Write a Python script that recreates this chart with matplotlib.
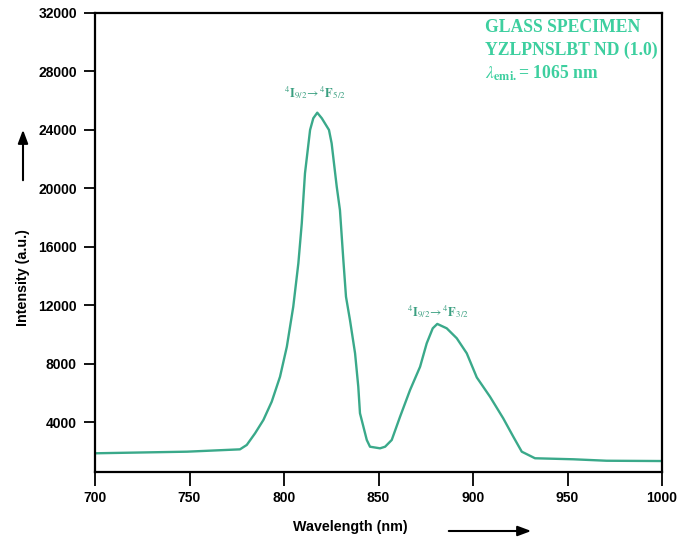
import matplotlib
matplotlib.use('Agg')
import matplotlib.pyplot as plt

# emission spectrum
wavelength = [700.0, 748.7, 776.7, 780.3, 784.7, 789.1, 793.5, 797.9, 801.5, 804.9,
              807.6, 809.4, 811.1, 813.8, 815.5, 817.6, 820.0, 823.8, 825.2, 827.9,
              829.6, 831.4, 832.8, 834.9, 837.6, 839.3, 840.2, 843.8, 845.5, 850.8,
              853.5, 857.0, 861.4, 866.7, 872.0, 875.5, 878.7, 881.1, 886.1, 891.4,
              896.7, 902.0, 909.0, 916.0, 921.3, 925.8, 932.8, 953.1, 970.7, 999.8]
intensity = [1880, 1990, 2150, 2450, 3250, 4160, 5410, 7120, 9170, 11910,
             14880, 17610, 21030, 24000, 24800, 25180, 24800, 24000, 23090, 20120,
             18520, 15100, 12590, 11000, 8720, 6440, 4620, 2790, 2330, 2220,
             2330, 2790, 4380, 6210, 7800, 9400, 10430, 10730, 10430, 9750,
             8720, 7070, 5750, 4270, 3020, 1990, 1540, 1470, 1370, 1350]

x_ticks = [700, 750, 800, 850, 900, 950, 1000]
y_ticks = [4000, 8000, 12000, 16000, 20000, 24000, 28000, 32000]

info_lines = ['GLASS SPECIMEN', 'YZLPNSLBT ND (1.0)', r'$\lambda_{\mathbf{emi.}}$= 1065 nm']
peak_labels = [r'$^{4}\mathbf{I}_{9/2}\!\rightarrow{}^{4}\mathbf{F}_{5/2}$',
               r'$^{4}\mathbf{I}_{9/2}\!\rightarrow{}^{4}\mathbf{F}_{3/2}$']
peak_label_pos = [(816.4, 26500), (881.5, 11550)]

line_color = '#3aa98a'
text_color = '#3dcf9f'

plt.rcParams['mathtext.fontset'] = 'stix'

fig = plt.figure(figsize=(6.79, 5.40), dpi=100)
ax = fig.add_axes([95 / 679, 1 - 472 / 540, 567 / 679, 459 / 540])

ax.plot(wavelength, intensity, color=line_color, linewidth=1.7)

ax.set_xlim(700, 1000)
ax.set_ylim(600, 32000)
ax.set_xticks(x_ticks)
ax.set_yticks(y_ticks)
ax.set_xticklabels([str(t) for t in x_ticks], fontsize=10, fontweight='bold', family='Liberation Sans')
ax.set_yticklabels([str(t) for t in y_ticks], fontsize=10, fontweight='bold', family='Liberation Sans')
ax.tick_params(axis='x', direction='out', length=10, width=1.3, pad=4)
ax.tick_params(axis='y', direction='out', length=8, width=1.3, pad=5)
for s in ax.spines.values():
    s.set_linewidth(1.6)

# peak assignments
for lab, (px, py) in zip(peak_labels, peak_label_pos):
    ax.text(px, py, lab, fontsize=9, color='#3a9f80', ha='center', va='center')

# specimen info, top right
for i, line in enumerate(info_lines):
    fig.text(485 / 679, 1 - (27 + 23 * i) / 540, line, fontsize=12.7, fontweight='bold',
             family='Liberation Serif', color=text_color, ha='left', va='center')

# axis labels with arrows
fig.text(23 / 679, 1 - 278 / 540, 'Intensity (a.u.)', rotation=90, fontsize=10.3,
         fontweight='bold', family='Liberation Sans', ha='center', va='center')
fig.text(350 / 679, 1 - 527 / 540, 'Wavelength (nm)', fontsize=10.3,
         fontweight='bold', family='Liberation Sans', ha='center', va='center')

arrow = dict(arrowstyle='-|>,head_length=0.8,head_width=0.3', color='black', lw=1.5)
ax.annotate('', xy=(23 / 679, 1 - 127 / 540), xytext=(23 / 679, 1 - 183 / 540),
            xycoords='figure fraction', textcoords='figure fraction', arrowprops=arrow,
            annotation_clip=False)
ax.annotate('', xy=(534 / 679, 1 - 531 / 540), xytext=(446 / 679, 1 - 531 / 540),
            xycoords='figure fraction', textcoords='figure fraction', arrowprops=arrow,
            annotation_clip=False)

fig.savefig('out.png', dpi=100)
